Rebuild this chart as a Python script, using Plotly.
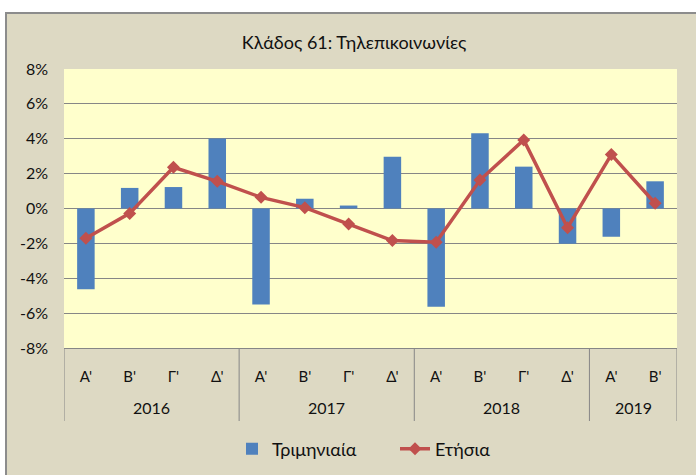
import plotly.graph_objects as go

years = ["2016", "2017", "2018", "2019"]
quarters_per_year = [4, 4, 4, 2]
quarters = ["Α'", "Β'", "Γ'", "Δ'"] * 3 + ["Α'", "Β'"]
quarterly = [-4.63, 1.18, 1.23, 4.02, -5.50, 0.56, 0.17, 2.97, -5.63, 4.31, 2.40, -2.02, -1.62, 1.56]
annual = [-1.71, -0.28, 2.36, 1.56, 0.64, 0.05, -0.89, -1.84, -1.94, 1.63, 3.93, -1.10, 3.09, 0.30]
y_ticks = [-8, -6, -4, -2, 0, 2, 4, 6, 8]

FONT = "Lato, 'Noto Sans', sans-serif"
xs = list(range(len(quarters)))

fig = go.Figure()
fig.add_trace(go.Bar(x=xs, y=quarterly, name="Τριμηνιαία",
                     marker=dict(color="#4F81BD", line=dict(width=0))))
fig.add_trace(go.Scatter(x=xs, y=annual, name="Ετήσια", mode="lines+markers",
                         line=dict(color="#C0504D", width=3.5),
                         marker=dict(symbol="diamond", size=10, color="#C0504D")))

# plot area: x 64..677, y 69..348 in a 696x475 page
L, R, T, B = 64, 19, 69, 127
pw, ph = 696 - L - R, 475 - T - B
def px(x):
    return (x - L) / pw
def py(y):
    return (475 - B - y) / ph

# white outer strips and chart border
fig.add_shape(type="rect", xref="paper", yref="paper", layer="below",
              x0=px(-10), x1=px(706), y0=py(13), y1=py(-10),
              fillcolor="white", line=dict(width=0))
fig.add_shape(type="rect", xref="paper", yref="paper", layer="below",
              x0=px(-10), x1=px(6), y0=py(485), y1=py(-10),
              fillcolor="white", line=dict(width=0))
fig.add_shape(type="rect", xref="paper", yref="paper", layer="below",
              x0=px(6), x1=px(710), y0=py(13), y1=py(490),
              fillcolor="rgba(0,0,0,0)", line=dict(color="#8C8C8C", width=2))

# year group dividers and labels
start = 0
bounds = [-0.5]
for yr, n in zip(years, quarters_per_year):
    end = start + n
    bounds.append(end - 0.5)
    fig.add_annotation(x=(start + end - 1) / 2, xref="x", y=py(407), yref="paper",
                       text=yr, showarrow=False, yanchor="middle",
                       font=dict(family=FONT, size=16, color="#111111"))
    start = end
for b in bounds:
    fig.add_shape(type="line", xref="x", yref="paper", x0=b, x1=b,
                  y0=0, y1=py(421), line=dict(color="#868686", width=1))

fig.update_layout(
    width=696, height=475,
    margin=dict(l=L, r=R, t=T, b=B, autoexpand=False),
    paper_bgcolor="#DDD9C3", plot_bgcolor="#FFFFCC",
    title=dict(text="Κλάδος 61: Τηλεπικοινωνίες", x=354 / 696, xref="container",
               xanchor="center", y=1 - 43 / 475, yanchor="middle",
               font=dict(family=FONT, size=18, color="#111111")),
    font=dict(family=FONT, size=15, color="#111111"),
    bargap=0.6,
    showlegend=True,
    legend=dict(orientation="h", x=px(232), xanchor="left", y=py(449), yanchor="middle",
                font=dict(size=18), bgcolor="rgba(0,0,0,0)", entrywidth=118,
                itemwidth=30),
    xaxis=dict(range=[-0.5, len(quarters) - 0.5], tickvals=xs, ticktext=quarters,
               showline=True, linecolor="#868686", linewidth=1, showgrid=False,
               ticks="", ticklabelstandoff=15, tickfont=dict(size=15), automargin=False),
    yaxis=dict(range=[-8, 8], tickvals=y_ticks, ticktext=[f"{v}%" for v in y_ticks],
               showgrid=True, gridcolor="#868686", gridwidth=1, zeroline=True,
               zerolinecolor="#868686", zerolinewidth=1, ticklabelstandoff=15,
               tickfont=dict(size=16), showline=False, automargin=False),
)

fig.write_html("out.html", config={"displayModeBar": False},
               post_script="document.body.style.margin='0';")
